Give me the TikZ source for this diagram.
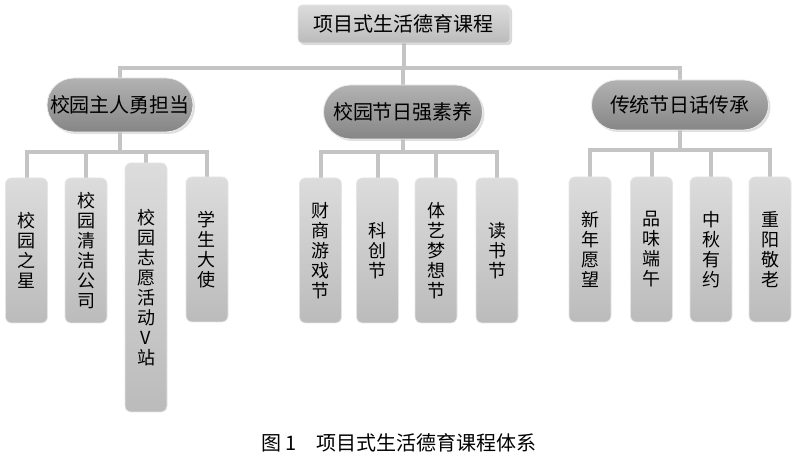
\documentclass[tikz,border=0pt]{standalone}
\usepackage{fontspec}
\setmainfont{Noto Sans CJK SC}
\usetikzlibrary{shapes.misc,shadows,backgrounds}
\definecolor{linkgray}{HTML}{C4C4C4}
\definecolor{pilltop}{HTML}{B2B2B2}
\definecolor{pillbot}{HTML}{868686}
\definecolor{leaftop}{HTML}{DCDCDC}
\definecolor{leafbot}{HTML}{BBBBBB}
\begin{document}
\begin{tikzpicture}[x=0.5pt,y=-0.5pt,
  topbox/.style={rectangle,rounded corners=2pt,draw=white!80!gray,top color=leaftop,bottom color=leafbot,
    minimum width=106pt,minimum height=19pt,font=\fontsize{10}{12}\selectfont,
    drop shadow={shadow xshift=1pt,shadow yshift=-1pt,fill=gray!60}},
  pill/.style={rounded rectangle,draw=white!85!gray,top color=pilltop,bottom color=pillbot,
    minimum height=27pt,inner xsep=2pt,font=\fontsize{10}{12}\selectfont,
    drop shadow={shadow xshift=1pt,shadow yshift=-1pt,fill=gray!50}},
  leaf/.style={rectangle,rounded corners=3pt,draw=white!80!gray,top color=leaftop,bottom color=leafbot,
    minimum width=21pt,minimum height=72.5pt,inner sep=1pt,align=center,
    font=\fontsize{9}{10}\selectfont},
  link/.style={draw=linkgray,line width=2pt}]
  \useasboundingbox (0,0) rectangle (800,459);
  \node[topbox] (root) at (404,24) {项目式生活德育课程};
  \node[pill,minimum width=77pt] (campus) at (120,105) {校园主人勇担当};
  \node[pill,minimum width=83.5pt] (festival) at (403,112) {校园节日强素养};
  \node[pill,minimum width=92.5pt,minimum height=25pt] (tradition) at (680,105) {传统节日话传承};
  \node[leaf] (c1) at (26.5,250.5) {校\\园\\之\\星};
  \node[leaf] (c2) at (86,250.5) {校\\园\\清\\洁\\公\\司};
  \node[leaf,minimum height=124.5pt] (c3) at (146,287.5) {校\\园\\志\\愿\\活\\动\\V\\站};
  \node[leaf] (c4) at (207,249.5) {学\\生\\大\\使};
  \node[leaf] (f1) at (320.5,250.5) {财\\商\\游\\戏\\节};
  \node[leaf] (f2) at (377.5,250.5) {科\\创\\节};
  \node[leaf] (f3) at (436,250.5) {体\\艺\\梦\\想\\节};
  \node[leaf] (f4) at (497,250.5) {读\\书\\节};
  \node[leaf] (t1) at (590,249.5) {新\\年\\愿\\望};
  \node[leaf] (t2) at (651.5,249.5) {品\\味\\端\\午};
  \node[leaf] (t3) at (711,249.5) {中\\秋\\有\\约};
  \node[leaf] (t4) at (770,249.5) {重\\阳\\敬\\老};
  \node[font=\fontsize{10}{12}\selectfont] (caption) at (399,443) {图 1\quad 项目式生活德育课程体系};
  \begin{scope}[on background layer]
    \foreach \b in {campus,festival,tradition}
      \draw[link] (root.south) -- ++(0,25) -| (\b.north);
    \foreach \l in {c1,c2,c3,c4}
      \draw[link] (campus.south) -- ++(0,20) -| (\l.north);
    \foreach \l in {f1,f2,f3,f4}
      \draw[link] (festival.south) -- ++(0,13) -| (\l.north);
    \foreach \l in {t1,t2,t3,t4}
      \draw[link] (tradition.south) -- ++(0,20) -| (\l.north);
  \end{scope}
\end{tikzpicture}
\end{document}
